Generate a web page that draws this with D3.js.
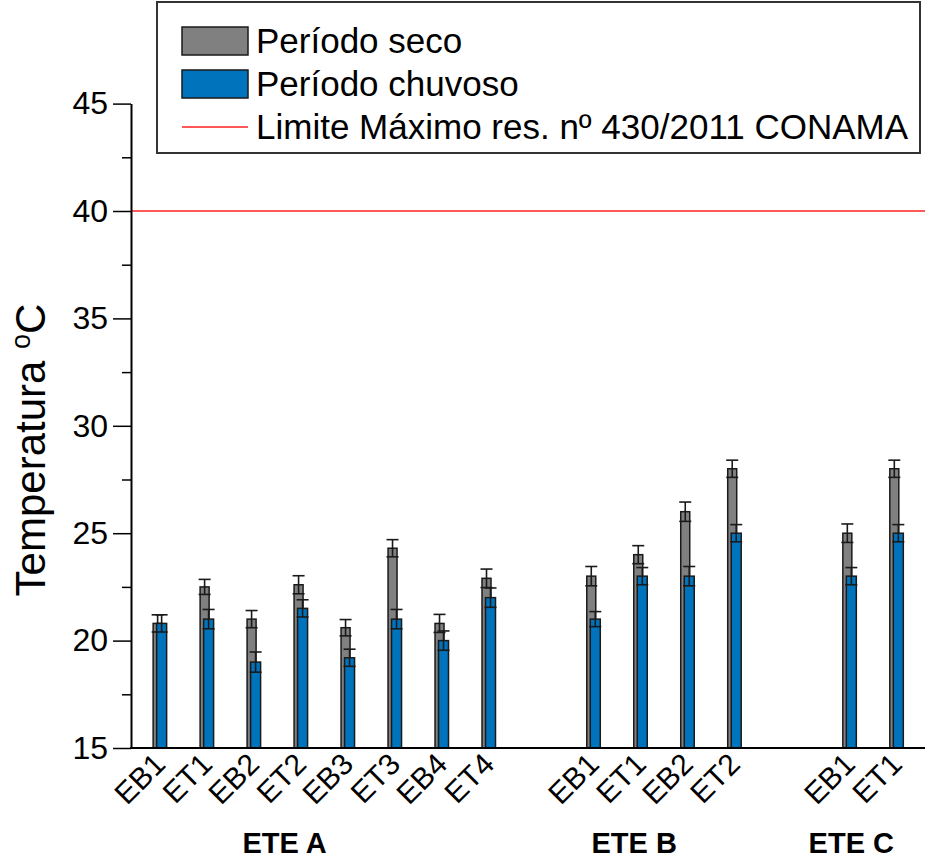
<!DOCTYPE html>
<html lang="pt">
<head>
    <meta charset="UTF-8">
    <title>Temperatura - ETE A, B, C</title>
    <script src="https://d3js.org/d3.v7.min.js"></script>
    <style>
        body {
            margin: 0;
            background: #fff;
            font-family: "Liberation Sans", Arial, sans-serif;
        }
        svg {
            display: block;
        }
    </style>
</head>
<body>

    <div id="chart"></div>

    <script>
        // Dados
        const groupNames = ["ETE A", "ETE B", "ETE C"];
        const stations = ["EB1", "ET1", "EB2", "ET2", "EB3", "ET3", "EB4", "ET4",
                          "EB1", "ET1", "EB2", "ET2",
                          "EB1", "ET1"];
        const stationGroup = [0, 0, 0, 0, 0, 0, 0, 0, 1, 1, 1, 1, 2, 2];
        const seco =       [20.8, 22.5, 21.0, 22.6, 20.6, 24.3, 20.8, 22.9, 23.0, 24.0, 26.0, 28.0, 25.0, 28.0];
        const secoErr =    [0.40, 0.35, 0.40, 0.42, 0.38, 0.40, 0.42, 0.43, 0.45, 0.42, 0.45, 0.40, 0.43, 0.40];
        const chuvoso =    [20.8, 21.0, 19.0, 21.5, 19.2, 21.0, 20.0, 22.0, 21.0, 23.0, 23.0, 25.0, 23.0, 25.0];
        const chuvosoErr = [0.40, 0.45, 0.47, 0.40, 0.40, 0.45, 0.45, 0.45, 0.35, 0.40, 0.45, 0.40, 0.40, 0.40];
        const yTicks = [15, 20, 25, 30, 35, 40, 45];
        const yMinorTicks = [17.5, 22.5, 27.5, 32.5, 37.5, 42.5];
        const conamaLimit = 40;

        const width = 933;
        const height = 862;
        const plot = { left: 131, right: 925, top: 103.6, bottom: 748 };
        const groupGap = [0, 1.23, 1.45]; // espaço extra entre grupos (em posições)
        const groupLabelShift = [-40, -30, -22];

        const grayFill = "#808080";
        const blueFill = "#0073bd";
        const outline = "#1a1a1a";

        // posição de cada estação no eixo x
        const slots = [];
        stations.forEach((_, i) => {
            if (i === 0) { slots.push(0); return; }
            let s = slots[i - 1] + 1;
            if (stationGroup[i] !== stationGroup[i - 1]) s += groupGap[stationGroup[i]];
            slots.push(s);
        });
        const lastSlot = slots[slots.length - 1];

        const x = d3.scaleLinear()
            .domain([-0.62, lastSlot + 0.6])
            .range([plot.left, plot.right]);

        const y = d3.scaleLinear()
            .domain([15, 45])
            .range([plot.bottom, plot.top]);

        const svg = d3.select("#chart")
            .append("svg")
            .attr("width", width)
            .attr("height", height);

        // Linha do limite CONAMA
        svg.append("line")
            .attr("x1", plot.left).attr("x2", plot.right)
            .attr("y1", y(conamaLimit)).attr("y2", y(conamaLimit))
            .attr("stroke", "#ff2020")
            .attr("stroke-width", 1.6);

        // Barras + barras de erro
        function drawSeries(values, errs, dx, w, fill, cls) {
            const g = svg.append("g").attr("class", cls);
            g.selectAll("rect")
                .data(values)
                .enter()
                .append("rect")
                .attr("x", (_, i) => x(slots[i]) + dx)
                .attr("y", d => y(d))
                .attr("width", w)
                .attr("height", d => plot.bottom - y(d))
                .attr("fill", fill)
                .attr("stroke", outline)
                .attr("stroke-width", 1.5);

            const cap = 6;
            const eb = g.selectAll("g.err")
                .data(values)
                .enter()
                .append("g")
                .attr("class", "err")
                .attr("stroke", outline)
                .attr("stroke-width", 1.6);
            const cx = i => x(slots[i]) + dx + w / 2;
            eb.append("line")
                .attr("x1", (_, i) => cx(i)).attr("x2", (_, i) => cx(i))
                .attr("y1", (d, i) => y(d + errs[i]))
                .attr("y2", (d, i) => y(d - errs[i]));
            eb.append("line")
                .attr("x1", (_, i) => cx(i) - cap).attr("x2", (_, i) => cx(i) + cap)
                .attr("y1", (d, i) => y(d + errs[i]))
                .attr("y2", (d, i) => y(d + errs[i]));
            eb.append("line")
                .attr("x1", (_, i) => cx(i) - cap).attr("x2", (_, i) => cx(i) + cap)
                .attr("y1", (d, i) => y(d - errs[i]))
                .attr("y2", (d, i) => y(d - errs[i]));
        }

        drawSeries(seco, secoErr, -7, 9, grayFill, "seco");
        drawSeries(chuvoso, chuvosoErr, -3.5, 10, blueFill, "chuvoso");

        // Eixo y
        const yAxis = svg.append("g")
            .attr("transform", `translate(${plot.left},0)`)
            .call(d3.axisLeft(y).tickValues(yTicks).tickSize(18).tickSizeOuter(0).tickPadding(5));
        yAxis.select(".domain").attr("stroke", "#000").attr("stroke-width", 2);
        yAxis.selectAll(".tick line").attr("stroke", "#000").attr("stroke-width", 1.5);
        yAxis.selectAll(".tick text")
            .attr("font-family", "'Liberation Sans', Arial, sans-serif")
            .attr("font-size", 32)
            .attr("fill", "#000");

        const yMinor = svg.append("g")
            .attr("transform", `translate(${plot.left},0)`)
            .call(d3.axisLeft(y).tickValues(yMinorTicks).tickSize(9).tickFormat(""));
        yMinor.select(".domain").remove();
        yMinor.selectAll(".tick line").attr("stroke", "#000").attr("stroke-width", 1.5);

        // Eixo x
        svg.append("line")
            .attr("x1", plot.left - 1).attr("x2", plot.right)
            .attr("y1", plot.bottom).attr("y2", plot.bottom)
            .attr("stroke", "#000")
            .attr("stroke-width", 2);

        svg.append("g")
            .selectAll("text")
            .data(stations)
            .enter()
            .append("text")
            .attr("transform", (_, i) => `translate(${x(slots[i]) + 7},${plot.bottom + 18}) rotate(-45)`)
            .attr("text-anchor", "end")
            .attr("font-size", 30)
            .attr("fill", "#000")
            .text(d => d);

        // Rótulos dos grupos
        svg.append("g")
            .selectAll("text")
            .data(groupNames)
            .enter()
            .append("text")
            .attr("x", (_, gi) => {
                const xs = slots.filter((_, i) => stationGroup[i] === gi).map(s => x(s));
                return d3.mean(xs) + groupLabelShift[gi];
            })
            .attr("y", 853)
            .attr("text-anchor", "middle")
            .attr("font-size", 29)
            .attr("font-weight", "bold")
            .attr("fill", "#000")
            .text(d => d);

        // Título do eixo y
        const yTitle = svg.append("text")
            .attr("transform", "translate(45,450) rotate(-90)")
            .attr("text-anchor", "middle")
            .attr("font-size", 42)
            .attr("fill", "#000");
        yTitle.append("tspan").text("Temperatura ");
        yTitle.append("tspan").attr("font-size", 27).attr("dy", -15).text("o");
        yTitle.append("tspan").attr("dy", 15).text("C");

        // Legenda
        const legend = svg.append("g");
        legend.append("rect")
            .attr("x", 157).attr("y", 2)
            .attr("width", 763).attr("height", 151)
            .attr("fill", "#fff")
            .attr("stroke", "#333")
            .attr("stroke-width", 2);

        const legendItems = [
            { label: "Período seco", type: "rect", fill: grayFill },
            { label: "Período chuvoso", type: "rect", fill: blueFill },
            { label: "Limite Máximo res. nº 430/2011 CONAMA", type: "line", fill: "#ff2020" }
        ];
        legendItems.forEach((d, i) => {
            const cy = 41 + i * 43;
            if (d.type === "rect") {
                legend.append("rect")
                    .attr("x", 182).attr("y", cy - 14)
                    .attr("width", 66).attr("height", 28)
                    .attr("fill", d.fill)
                    .attr("stroke", outline)
                    .attr("stroke-width", 1.5);
            } else {
                legend.append("line")
                    .attr("x1", 182).attr("x2", 248)
                    .attr("y1", cy).attr("y2", cy)
                    .attr("stroke", d.fill)
                    .attr("stroke-width", 1.6);
            }
            legend.append("text")
                .attr("x", 256)
                .attr("y", cy + 12)
                .attr("font-size", 35)
                .attr("fill", "#000")
                .text(d.label);
        });
    </script>

</body>
</html>
